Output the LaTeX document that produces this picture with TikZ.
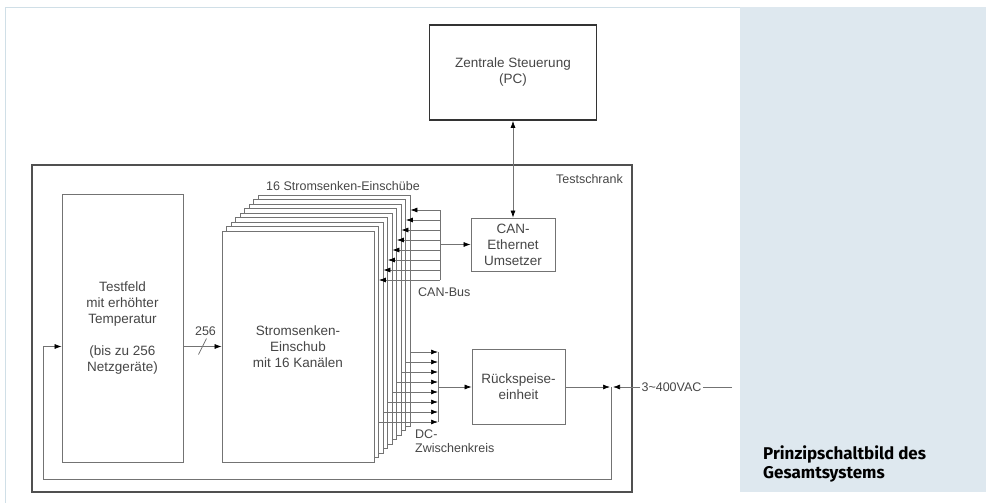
\documentclass[tikz,border=0pt]{standalone}
\usepackage{fontspec}
\setmainfont{Liberation Sans}
\newfontfamily\captionfont{Fira Sans}
\usepackage{xcolor}
\definecolor{panelblue}{RGB}{222,232,239}
\definecolor{framegray}{RGB}{208,223,231}
\definecolor{linegray}{RGB}{115,115,115}
\definecolor{textgray}{RGB}{70,70,70}
\definecolor{cabinetgray}{RGB}{80,80,80}
\usetikzlibrary{arrows.meta}
\newcommand{\stackstep}{4.5}
\newcommand{\boxfont}{\fontsize{13.5}{16}\selectfont}
\newcommand{\notefont}{\fontsize{12.5}{14}\selectfont}
\tikzset{
    common/.style={draw=linegray, rectangle, line width=0.8pt, text=textgray, align=center, font=\boxfont, inner sep=1pt},
    unit/.style={common, fill=white},
    slot/.style={unit, minimum width=152pt, minimum height=231pt},
    hostbox/.style={common, draw=black!80, line width=1.8pt, minimum width=167pt, minimum height=95pt},
    cabinet/.style={draw=cabinetgray, rectangle, line width=2pt, minimum width=600pt, minimum height=327pt},
    note/.style={text=textgray, font=\notefont, inner sep=1pt},
    wire/.style={draw=linegray, line width=0.7pt},
    feed/.style={wire, -{Latex[black, length=7pt, width=5pt]}},
    twoway/.style={wire, {Latex[black, length=7pt, width=5pt]}-{Latex[black, length=7pt, width=5pt]}}
}

\begin{document}
\begin{tikzpicture}[x=1pt, y=-1pt]
    \useasboundingbox (0,0) rectangle (986,503);
    \fill[panelblue] (740,7) rectangle (986,492);
    \draw[framegray, line width=1pt] (5,503) -- (5,8) -- (740,8);

    \node[hostbox] (pc) at (513,72.5) {Zentrale Steuerung\\(PC)};
    \node[cabinet] (schrank) at (332,328.5) {};
    \node[note, anchor=north east] (schranklabel) at ([shift={(-9,9)}]schrank.north east) {Testschrank};

    \node[unit, minimum width=121pt, minimum height=268pt] (feld) at (122.5,328)
        {Testfeld\\mit erhöhter\\Temperatur\\[16pt](bis zu 256\\Netzgeräte)};

    \foreach \i in {8,...,1}
        \node[slot] (slot\i) at (298+\stackstep*\i, 346.5-\stackstep*\i) {};
    \node[slot] (slot0) at (298,346.5) {Stromsenken-\\Einschub\\mit 16 Kanälen};
    \node[note] (stacklabel) at (343,186) {16 Stromsenken-Einschübe};

    \node[unit, minimum width=84pt, minimum height=53pt] (umsetzer) at (513,244.5) {CAN-\\Ethernet\\Umsetzer};
    \node[unit, minimum width=93pt, minimum height=75pt] (rueck) at (518.5,387) {Rückspeise-\\einheit};

    \coordinate (cantop) at (440,210);
    \coordinate (canbot) at (440,280);
    \coordinate (dctop) at (438,352);
    \coordinate (dcbot) at (438,422);
    \coordinate (join) at (611.5,387);
    \coordinate (mains) at (732,387);
    \coordinate (loopcorner) at (43,479);

    \draw[wire] (cantop) -- (canbot);
    \foreach \k [evaluate=\k as \n using int(8-\k), evaluate=\k as \y using 210+10*\k] in {0,...,7}
        \draw[feed] (cantop |- 0,\y) -- (slot\n.east |- 0,\y);
    \node[note, anchor=west] (canlabel) at (417,292) {CAN-Bus};

    \draw[wire] (dctop) -- (dcbot);
    \foreach \k [evaluate=\k as \n using int(8-\k), evaluate=\k as \y using 352+10*\k] in {0,...,7}
        \draw[feed] (slot\n.east |- 0,\y) -- (dctop |- 0,\y);
    \node[note, anchor=north west, align=left] (dclabel) at (414,429) {DC-\\Zwischenkreis};

    \draw[twoway] (pc) -- (umsetzer);
    \draw[feed] (cantop |- umsetzer) -- (umsetzer);
    \draw[feed] (dctop |- rueck) -- (rueck);

    \draw[feed] (feld.east |- slot0) -- coordinate (bus256) (slot0.west);
    \draw[wire] ([shift={(-4,8)}]bus256) -- ([shift={(4,-8)}]bus256);
    \node[note] (count) at ([shift={(3,-15)}]bus256) {256};

    \node[note, fill=white] (acin) at (671.5,387) {3\textasciitilde400VAC};
    \draw[wire] (mains) -- (acin);
    \draw[feed] (acin) -- ([xshift=1.5pt]join);
    \draw[feed] (rueck) -- ([xshift=-1.5pt]join);
    \draw[feed] (join) |- (loopcorner) |- (feld.west |- slot0);

    \node[anchor=north west, align=left, inner sep=0pt, font=\captionfont\bfseries\fontsize{17}{19}\selectfont] (caption)
        at (763,446) {Prinzipschaltbild des\\Gesamtsystems};
\end{tikzpicture}
\end{document}
